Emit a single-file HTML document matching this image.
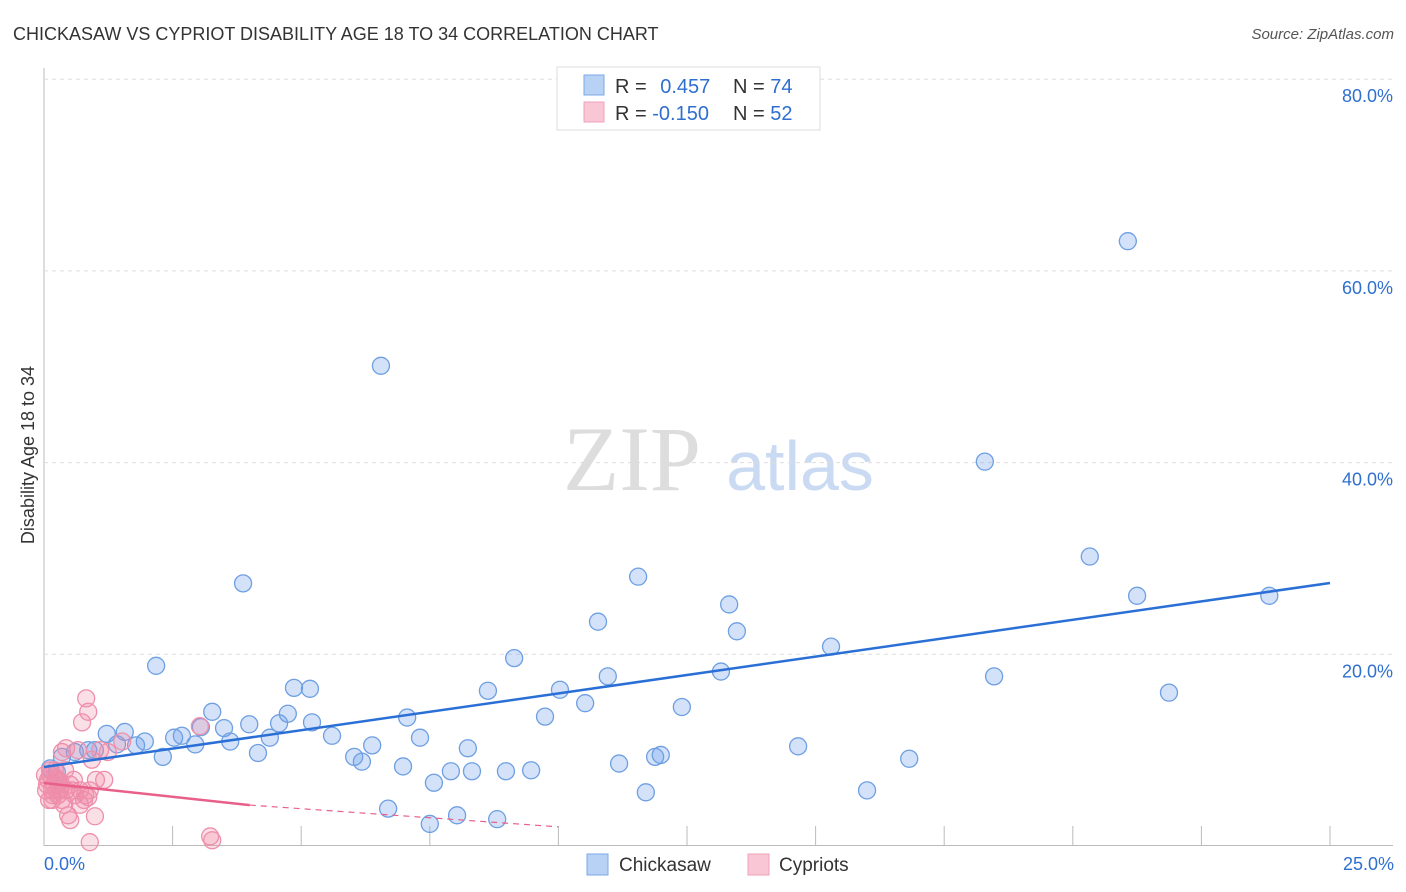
<!DOCTYPE html>
<html><head><meta charset="utf-8">
<style>
body{margin:0;background:#fff;font-family:"Liberation Sans",sans-serif;}
#wrap{position:relative;width:1406px;height:892px;overflow:hidden;}
</style></head>
<body>
<div id="wrap">
<svg id="svg" width="1406" height="892" xmlns="http://www.w3.org/2000/svg">
<text x="13" y="40" font-size="18" fill="#333">CHICKASAW VS CYPRIOT DISABILITY AGE 18 TO 34 CORRELATION CHART</text>
<text x="1394" y="39" font-size="15" fill="#555" font-style="italic" text-anchor="end">Source: ZipAtlas.com</text>
<text x="632" y="490" font-size="92" fill="#ddd" font-family="Liberation Serif,serif" text-anchor="middle">ZIP</text>
<text x="800" y="490" font-size="70" fill="#c9daf2" text-anchor="middle">atlas</text>
<text transform="translate(34,455) rotate(-90)" font-size="18" fill="#333" text-anchor="middle">Disability Age 18 to 34</text>
<g id="grid"></g><g id="marks"></g>
<g>
<rect x="557" y="67" width="263" height="63" fill="#fff" stroke="#ddd"/>
<rect x="584" y="75" width="20" height="20" fill="#b8d2f5" stroke="#7aa8e6"/>
<rect x="584" y="102" width="20" height="20" fill="#f9c6d6" stroke="#f0a0b8"/>
<text x="615" y="93" font-size="20" fill="#333">R = <tspan fill="#2f6fd0" dx="8">0.457</tspan></text>
<text x="733" y="93" font-size="20" fill="#333">N = <tspan fill="#2f6fd0">74</tspan></text>
<text x="615" y="120" font-size="20" fill="#333">R = <tspan fill="#2f6fd0">-0.150</tspan></text>
<text x="733" y="120" font-size="20" fill="#333">N = <tspan fill="#2f6fd0">52</tspan></text>
</g>
<g>
<rect x="587" y="854" width="21" height="21" fill="#b8d2f5" stroke="#7aa8e6"/>
<text x="619" y="871" font-size="19" fill="#333">Chickasaw</text>
<rect x="748" y="854" width="21" height="21" fill="#f9c6d6" stroke="#f0a0b8"/>
<text x="779" y="871" font-size="19" fill="#333">Cypriots</text>
</g>
<text x="44" y="870" font-size="18" fill="#2f6fd0">0.0%</text>
<text x="1394" y="870" font-size="18" fill="#2f6fd0" text-anchor="end">25.0%</text>
</svg>
</div>
<script>
const yTicks=[20,40,60,80];
const yTickLabels=["20.0%","40.0%","60.0%","80.0%"];
const xTicks=[0,2.5,5,7.5,10,12.5,15,17.5,20,22.5,25];
const chickX=[0.12,0.25,0.35,0.60,0.86,0.99,1.22,1.42,1.57,1.79,1.96,2.18,2.31,2.53,2.68,2.94,3.05,3.27,3.50,3.62,3.87,3.99,4.16,4.39,4.57,4.74,4.86,5.17,5.21,5.60,6.03,6.18,6.38,6.55,6.69,6.98,7.06,7.31,7.50,7.58,7.91,8.03,8.24,8.32,8.63,8.81,8.98,9.14,9.47,9.74,10.03,10.52,10.77,10.96,11.18,11.55,11.70,11.88,11.99,12.40,13.16,13.32,13.47,14.66,15.30,16.00,16.82,18.29,18.47,20.33,21.07,21.25,21.87,23.82];
const chickY=[8.1,7.7,9.3,9.8,10.0,10.0,11.7,10.6,11.9,10.5,10.9,18.8,9.3,11.3,11.5,10.6,12.4,14.0,12.3,10.9,27.4,12.7,9.7,11.3,12.8,13.8,16.5,16.4,12.9,11.5,9.3,8.8,10.5,50.1,3.9,8.3,13.4,11.3,2.3,6.6,7.8,3.2,10.2,7.8,16.2,2.8,7.8,19.6,7.9,13.5,16.3,14.9,23.4,17.7,8.6,28.1,5.6,9.3,9.5,14.5,18.2,25.2,22.4,10.4,20.8,5.8,9.1,40.1,17.7,30.2,63.1,26.1,16.0,26.1];
const cypX=[0.12,0.16,0.19,0.23,0.27,0.31,0.35,0.39,0.43,0.47,0.51,0.35,0.43,0.54,0.58,0.66,0.70,0.74,0.78,0.82,0.86,0.86,0.89,0.93,0.99,1.01,1.09,1.17,1.24,1.52,3.03,3.23,3.27,0.04,0.08,0.12,0.16,0.21,0.27,0.31,0.06,0.17,0.25,0.33,0.41,0.51,0.60,0.70,0.80,0.89,0.02,0.10];
const cypY=[7.4,5.8,6.4,7.1,5.3,6.7,4.8,4.3,5.8,3.2,2.7,9.8,10.2,5.8,6.9,10.0,4.3,12.9,4.8,15.4,14.0,5.1,0.4,9.0,3.1,6.9,10.0,6.9,9.8,10.9,12.5,1.0,0.6,5.8,6.9,7.9,4.8,7.9,6.9,5.8,6.4,5.3,5.8,6.4,7.9,6.4,5.3,5.8,5.3,5.8,7.4,4.8];
const chickTrend=[8.24,27.44];
const cypTrend=[6.57,4.27,2.0];
const cypTrendX=[0,4.0,10];
const NS="http://www.w3.org/2000/svg";
const X=v=>44+v/25*1286;
const Y=v=>846-v/20*191.7;
const grid=document.getElementById('grid'),marks=document.getElementById('marks');
function mk(tag,a,parent){const e=document.createElementNS(NS,tag);for(const k in a)e.setAttribute(k,a[k]);parent.appendChild(e);return e;}
const ax=mk('line',{x1:44,y1:68,x2:44,y2:846,stroke:'#bbb'},grid);


const bx=mk('line',{x1:44,y1:845.5,x2:1393,y2:845.5,stroke:'#bbb'},grid);


yTicks.forEach((t,i)=>{
 const g=mk('line',{x1:44,y1:Y(t),x2:1393,y2:Y(t),stroke:'#ddd','stroke-dasharray':'4,4'},grid);
 
 
 const tx=mk('text',{x:1393,y:Y(t)+23,'font-size':18,fill:'#2f6fd0','text-anchor':'end'},grid);
 tx.textContent=yTickLabels[i];
 
 
});
xTicks.forEach(t=>{
 const l=mk('line',{x1:X(t),y1:826,x2:X(t),y2:846,stroke:'#bbb'},grid);
 
 
});
chickX.forEach((x,i)=>{
 const c=mk('circle',{cx:X(x),cy:Y(chickY[i]),r:8.5,fill:'rgba(110,160,235,0.3)',stroke:'#6e9fe2','stroke-width':1.3},marks);
 
 
});
cypX.forEach((x,i)=>{
 const c=mk('circle',{cx:X(x),cy:Y(cypY[i]),r:8.5,fill:'rgba(242,140,170,0.28)',stroke:'#ee8fab','stroke-width':1.3},marks);
 
 
});
const bl=mk('line',{x1:X(0),y1:Y(chickTrend[0]),x2:X(25),y2:Y(chickTrend[1]),stroke:'#2a6fd6','stroke-width':2.5},marks);


const pl=mk('line',{x1:X(cypTrendX[0]),y1:Y(cypTrend[0]),x2:X(cypTrendX[1]),y2:Y(cypTrend[1]),stroke:'#e8608a','stroke-width':2.5},marks);


const pd=mk('line',{x1:X(cypTrendX[1]),y1:Y(cypTrend[1]),x2:X(cypTrendX[2]),y2:Y(cypTrend[2]),stroke:'#e8608a','stroke-width':1.2,'stroke-dasharray':'6,5'},marks);


</script>
</body></html>
